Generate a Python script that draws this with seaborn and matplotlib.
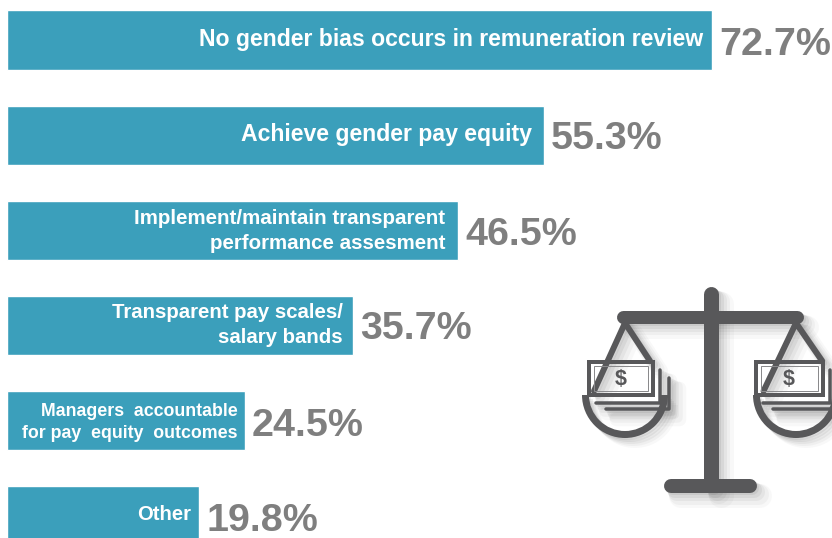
import matplotlib
matplotlib.use("Agg")
import matplotlib.pyplot as plt
import seaborn as sns
import numpy as np
import pandas as pd
from matplotlib.patches import Wedge, Rectangle

categories = [
    "No gender bias occurs in remuneration review",
    "Achieve gender pay equity",
    "Implement/maintain transparent\nperformance assesment",
    "Transparent pay scales/\nsalary bands",
    "Managers  accountable\nfor pay  equity  outcomes",
    "Other",
]
values = [72.7, 55.3, 46.5, 35.7, 24.5, 19.8]
value_labels = ["72.7%", "55.3%", "46.5%", "35.7%", "24.5%", "19.8%"]

BAR = "#3B9FBB"
GREY = "#7F7F7F"
ICON = "#58585A"
W, H = 832, 538
label_sizes = [16.6, 16.6, 14.75, 14.65, 12.75, 14.6]
label_pad = [9, 12, 13, 11, 7, 8]
label_dy = [-0.5, -0.5, 0.5, -0.5, 2, -1.5]
value_dy = [4.5, 3.5, 4.5, 3.5, 5, 5]

sns.set_theme(style="white")
plt.rcParams["font.family"] = ["Liberation Sans", "DejaVu Sans"]

fig = plt.figure(figsize=(W / 100, H / 100), dpi=100, facecolor="white")
ax = fig.add_axes([0, 0, 1, 1])
df = pd.DataFrame({"category": categories, "value": values})
sns.barplot(data=df, y="category", x="value", orient="h", color=BAR,
            saturation=1, width=0.625, ax=ax)
ax.set_xlim(-7.2 / 9.7, (W - 7.2) / 9.7)
ax.set_ylim((H - 40.2) / 95.1, -40.2 / 95.1)
ax.axis("off")

px = 0.72  # points per pixel at 100 dpi
for i, (v, c, t) in enumerate(zip(values, categories, value_labels)):
    ax.annotate(c, (v, i), xytext=(-label_pad[i] * px, -label_dy[i] * px),
                textcoords="offset points", ha="right", va="center",
                ma="right", color="white", fontweight="bold",
                fontsize=label_sizes[i], linespacing=1.38)
    ax.annotate(t, (v, i), xytext=(7 * px, -value_dy[i] * px),
                textcoords="offset points", ha="left", va="center",
                color=GREY, fontweight="bold", fontsize=28.4,
                annotation_clip=False)

# decorative scales icon, in a pixel-coordinate overlay
ov = fig.add_axes([0, 0, 1, 1], facecolor="none")
ov.set_xlim(0, W)
ov.set_ylim(H, 0)
ov.axis("off")


def draw(dx, dy, color, alpha, extra):
    kw = dict(color=color, alpha=alpha, solid_capstyle="round", zorder=2 if alpha < 1 else 3)
    lw = lambda p: (p + extra) * px
    ov.plot([710.5 + dx] * 2, [294 + dy, 485 + dy], lw=lw(15), **kw)
    ov.plot([623 + dx, 797 + dx], [316.5 + dy] * 2, lw=lw(13), **kw)
    ov.plot([671 + dx, 750 + dx], [486 + dy] * 2, lw=lw(14), **kw)
    for cx, x0, x1 in [(625, 589, 653), (796, 756, 823)]:
        s = (x1 - x0) / 64
        ov.plot([cx - 31 * s + dx, cx + dx, cx + 25 * s + dx],
                [391 + dy, 323 + dy, 361 + dy], lw=lw(6), **kw)
        ov.add_patch(Wedge((cx + dx, 395 + dy), 43, 0, 180, width=7,
                           facecolor=color, edgecolor="none", alpha=alpha, zorder=kw["zorder"]))
        ov.plot([x0 + 7 + dx, x1 + 7 + dx, x1 + 7 + dx],
                [403 + dy, 403 + dy, 370 + dy], lw=lw(3.5), **kw)
        ov.plot([x0 + 17 + dx, x1 + 16 + dx, x1 + 16 + dx],
                [409 + dy, 409 + dy, 378 + dy], lw=lw(3.5), **kw)


for off, a, e in [(10, 0.04, 10), (8, 0.05, 7), (6, 0.07, 4), (4, 0.09, 2), (2, 0.10, 0)]:
    draw(off, off, "#555555", a, e)
draw(0, 0, ICON, 1, 0)

for x0, x1 in [(589, 653), (756, 823)]:
    ov.add_patch(Rectangle((x0, 362), x1 - x0, 33, facecolor="none",
                           edgecolor=ICON, lw=4 * px, zorder=5))
    ov.add_patch(Rectangle((x0 + 5, 366), x1 - x0 - 10, 25, facecolor="none",
                           edgecolor="#8A8A8C", lw=1.0 * px, zorder=5))
    ov.text((x0 + x1) / 2 - 0.5, 379.5, "$", ha="center", va="center", color=ICON,
            fontweight="bold", fontsize=15.5, zorder=6)

fig.savefig("out.png", dpi=100)
